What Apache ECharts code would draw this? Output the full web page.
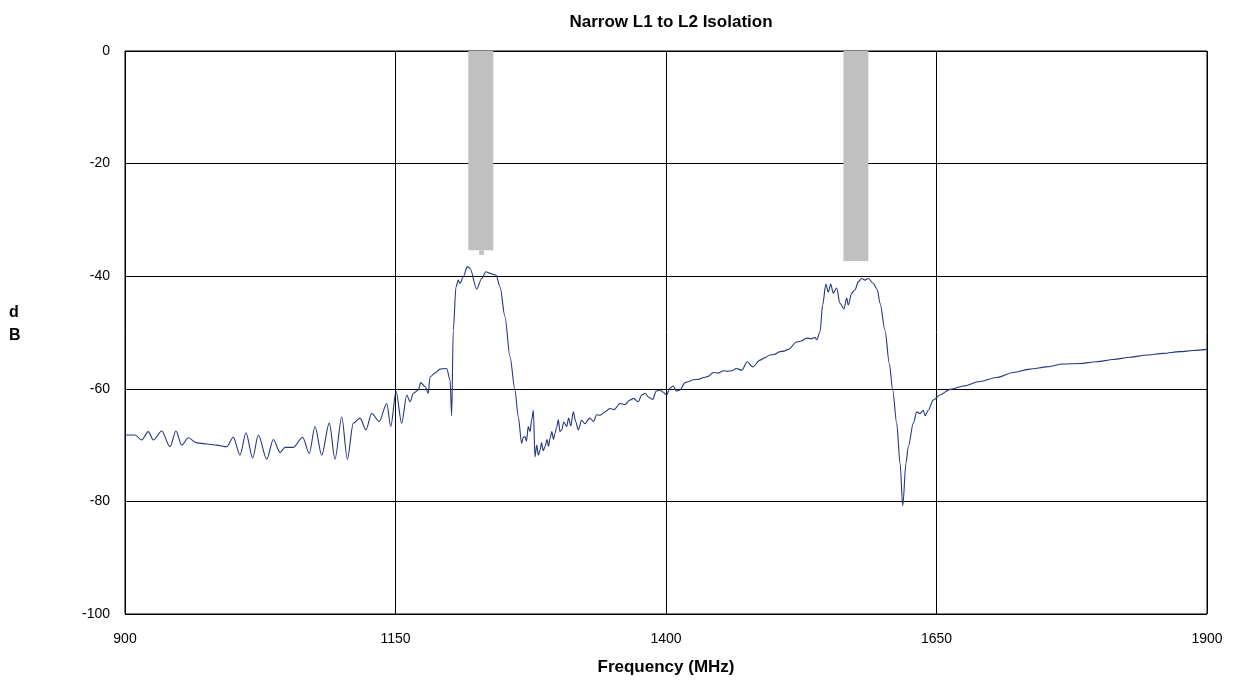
<!DOCTYPE html>
<html>
<head>
<meta charset="utf-8">
<script src="https://cdn.jsdelivr.net/npm/echarts@6/dist/echarts.min.js"></script>
<style>
html,body{margin:0;padding:0;background:#fff;}
#chart{width:1233px;height:690px;}
</style>
</head>
<body>
<div id="chart"></div>
<script>
const titleText = 'Narrow L1 to L2 Isolation';
const xAxisTitle = 'Frequency (MHz)';
const yAxisTitle = 'd\nB';
const xTicks = [900, 1150, 1400, 1650, 1900];
const yTicks = [-100, -80, -60, -40, -20, 0];

const freqMHz = [900,909.2,915.4,921.5,926.2,933.9,941.6,947.1,952.4,958.5,966.3,975.5,984.7,994.0,1000.1,1006.3,1011.8,1018.0,1023.2,1031.0,1037.1,1043.3,1047.9,1055.5,1064.2,1070.3,1075.6,1081.8,1088.8,1094.1,1100.3,1105.5,1111.0,1117.2,1122.7,1128.0,1135.0,1141.9,1145.6,1150.5,1155.7,1160.4,1163.4,1166.5,1171.1,1173.3,1177.3,1180.3,1181.9,1186.5,1191.1,1197.3,1200.4,1201.9,1203.4,1205.9,1208.0,1209.6,1212.7,1216.4,1218.9,1225.0,1229.7,1233.6,1237.3,1242.9,1246.6,1251.2,1255.8,1260.4,1263.5,1266.6,1268.0,1269.7,1271.0,1272.7,1274.3,1275.9,1277.4,1278.9,1280.5,1282.0,1283.6,1285.0,1286.5,1288.2,1290.0,1291.5,1292.8,1294.5,1296.0,1297.4,1299.0,1300.5,1302.0,1303.6,1305.5,1308.2,1310.0,1312.0,1314.3,1316.5,1318.9,1322.0,1325.0,1329.5,1333.0,1336.0,1339.0,1343.0,1348.2,1352.0,1357.5,1362.0,1366.7,1370.0,1374.4,1377.5,1380.6,1384.0,1387.7,1391.0,1394.4,1397.5,1400.6,1403.5,1406.7,1409.5,1412.9,1417.6,1421.0,1425.2,1430.0,1434.5,1439.0,1443.7,1448.0,1453.0,1457.0,1460.7,1465.0,1470.0,1475.1,1480.1,1486.9,1491.0,1496.1,1500.0,1505.4,1509.0,1513.0,1520.8,1525.0,1530.0,1534.0,1537.7,1539.3,1542.3,1544.8,1547.7,1550.0,1552.2,1554.6,1557.7,1560.8,1564.5,1567.0,1568.5,1571.6,1574.7,1577.7,1580.9,1583.9,1587.0,1591.6,1595.3,1597.8,1602.4,1606.4,1609.5,1613.2,1616.3,1618.8,1621.8,1623.9,1628.6,1631.7,1634.7,1637.8,1639.4,1642.4,1647.0,1653.2,1662.5,1674.8,1690.2,1705.6,1721.0,1736.4,1751.8,1767.2,1782.6,1798.1,1813.4,1828.8,1844.3,1859.6,1875.0,1887.3,1900];

const isolationDb = [-68.2,-68.2,-69.1,-67.6,-69.1,-67.5,-70.3,-67.5,-70.0,-68.7,-69.6,-69.8,-70.0,-70.3,-68.6,-71.8,-67.8,-72.3,-68.2,-72.5,-69.0,-71.3,-70.4,-70.4,-68.6,-71.5,-66.7,-71.8,-66.1,-72.5,-65.0,-72.5,-66.1,-65.2,-67.3,-64.4,-65.8,-62.6,-66.7,-60.5,-66.1,-61.1,-62.3,-60.8,-60.2,-58.9,-59.6,-60.8,-57.9,-57.2,-56.5,-56.4,-58.4,-64.8,-49.6,-41.9,-40.7,-41.3,-40.1,-38.3,-38.6,-42.3,-40.4,-39.2,-39.5,-39.8,-41.9,-47.2,-54.3,-60.2,-65.0,-69.7,-68.6,-68.5,-69.3,-66.7,-67.6,-65.5,-63.8,-72.1,-70.0,-71.8,-70.9,-69.6,-71.0,-70.3,-69.0,-70.2,-68.8,-67.6,-69.0,-67.9,-66.8,-65.5,-67.6,-67.3,-65.9,-66.7,-65.2,-66.6,-64.1,-65.8,-67.3,-65.6,-66.2,-65.2,-65.8,-64.6,-64.7,-64.2,-63.5,-63.7,-62.6,-62.8,-62.0,-61.7,-62.3,-61.1,-60.8,-61.5,-61.9,-60.4,-60.2,-60.6,-61.1,-59.9,-59.5,-60.4,-60.2,-58.9,-58.7,-58.4,-58.3,-58.0,-57.8,-57.1,-57.2,-56.8,-56.9,-56.8,-56.4,-56.7,-55.2,-56.1,-54.9,-54.5,-54.0,-53.9,-53.4,-53.3,-53.0,-51.7,-51.5,-51.0,-51.1,-50.9,-51.3,-49.9,-45.1,-41.4,-42.8,-41.4,-43.0,-42.1,-44.8,-45.8,-43.9,-45.1,-43.0,-42.4,-41.0,-40.4,-40.7,-40.4,-41.3,-42.4,-44.8,-49.6,-55.5,-60.2,-66.1,-73.2,-80.8,-73.2,-70.3,-66.1,-64.1,-64.4,-63.8,-64.8,-63.8,-62.0,-61.1,-60.1,-59.5,-58.7,-58.0,-57.1,-56.5,-56.1,-55.6,-55.5,-55.2,-54.8,-54.4,-54.0,-53.7,-53.4,-53.2,-53.0];

// grey band markers (start MHz, end MHz, top dB, bottom dB)
const bandStartMHz = [1217.3, 1227.3, 1564.0];
const bandEndMHz   = [1240.4, 1231.6, 1587.0];
const bandTopDb    = [0, -35.4, 0];
const bandBottomDb = [-35.4, -36.2, -37.3];

const chart = echarts.init(document.getElementById('chart'), null, {renderer:'canvas'});
const font = "'Liberation Sans',Arial,sans-serif";
const lineData = freqMHz.map((f,i)=>[f, isolationDb[i]]);
const areas = bandStartMHz.map((s,i)=>[{coord:[s, bandTopDb[i]]},{coord:[bandEndMHz[i], bandBottomDb[i]]}]);

chart.setOption({
  animation:false,
  backgroundColor:'#fff',
  title:{text:titleText,left:666,textAlign:'center',top:9,
    textStyle:{fontFamily:font,fontWeight:'bold',fontSize:17,color:'#000'}},
  grid:{left:125,right:26,top:51,bottom:76,show:true,borderColor:'#000',borderWidth:1},
  xAxis:{type:'value',min:xTicks[0],max:xTicks[xTicks.length-1],interval:xTicks[1]-xTicks[0],
    name:xAxisTitle,nameLocation:'middle',nameGap:45,
    nameTextStyle:{fontFamily:font,fontWeight:'bold',fontSize:17,color:'#000'},
    axisLine:{lineStyle:{color:'#000',width:1}},axisTick:{show:false},
    axisLabel:{fontFamily:font,fontSize:14,color:'#000',margin:18,formatter:v=>String(v)},
    splitLine:{show:true,lineStyle:{color:'#000',width:1}}},
  yAxis:{type:'value',min:yTicks[0],max:yTicks[yTicks.length-1],interval:yTicks[1]-yTicks[0],
    axisLine:{show:true,lineStyle:{color:'#000',width:1}},axisTick:{show:false},
    axisLabel:{fontFamily:font,fontSize:14,color:'#000',margin:15,formatter:v=>String(v)},
    splitLine:{show:true,lineStyle:{color:'#000',width:1}}},
  graphic:[{type:'text',left:9,top:301,style:{text:yAxisTitle,fontFamily:font,fontWeight:'bold',fontSize:16,lineHeight:23,fill:'#000'}}],
  series:[{type:'line',data:lineData,showSymbol:false,symbol:'none',smooth:0.3,smoothMonotone:'x',
    lineStyle:{color:'#25357f',width:1.1},
    markArea:{silent:true,itemStyle:{color:'#c0c0c0',opacity:1},data:areas}}]
});
</script>
</body>
</html>
